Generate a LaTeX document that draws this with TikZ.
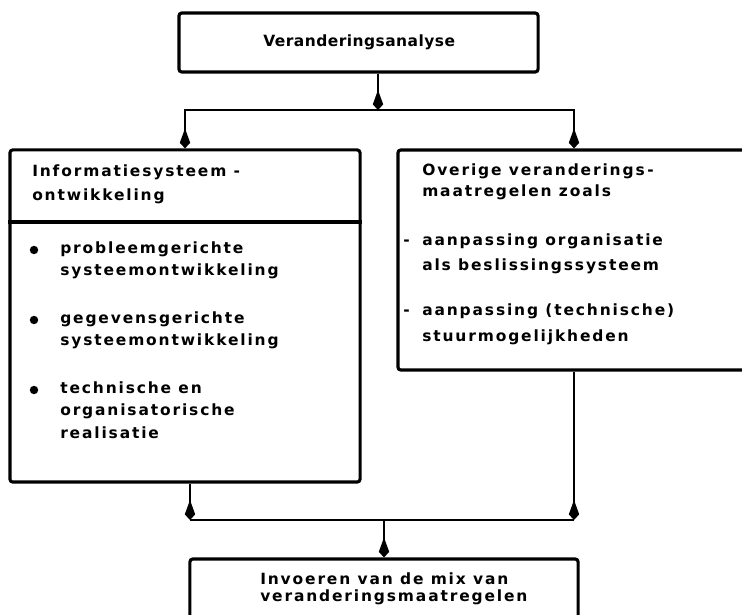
\documentclass[tikz,border=0pt]{standalone}
\usepackage{fontspec}
\newfontfamily\schemafont{DejaVu Sans}[LetterSpace=12]
\newfontfamily\kopfont{DejaVu Sans}[LetterSpace=3]
\usetikzlibrary{arrows.meta, positioning}

\tikzset{
    blok/.style={draw, line width=2.2pt, rounded corners=2pt, inner sep=0pt},
    tekst/.style={font=\schemafont\bfseries\fontsize{11}{13}\selectfont, inner sep=0pt, anchor=base west},
    kop/.style={tekst, font=\kopfont\bfseries\fontsize{11}{13}\selectfont},
    pijl/.style={-{Kite[length=5mm, width=2.6mm, inset=3.6mm]}, line width=1.3pt},
    lijn/.style={line width=1.3pt},
    punt/.style={circle, fill, inner sep=0pt, minimum size=6pt}
}

\begin{document}
\begin{tikzpicture}[x=0.025cm, y=-0.025cm]
    \useasboundingbox (0,0) rectangle (742,615);
    \clip (0,0) rectangle (742,615);

    % blokken
    \node[blok, minimum width=8.975cm, minimum height=1.475cm] (top) at (358.5,42.5) {};
    \node[blok, minimum width=8.75cm, minimum height=8.3cm] (info) at (185,316) {};
    \node[blok, minimum width=8.8cm, minimum height=5.5cm] (other) at (574,260) {};
    \node[blok, minimum width=9.7cm, minimum height=2.3cm] (mix) at (384,605) {};
    \draw[line width=2.2pt] (info.west |- 0,222) -- (info.east |- 0,222);

    % teksten
    \node[kop] (t0) at (263,47) {Veranderingsanalyse};

    \node[tekst] (i1) at (32,177) {Informatiesysteem -};
    \node[tekst] (i2) at (32,201) {ontwikkeling};
    \node[punt] (b1) at (34,250) {};
    \node[tekst] (i3) at (60,254) {probleemgerichte};
    \node[tekst] (i4) at (60,276) {systeemontwikkeling};
    \node[punt] (b2) at (34,320) {};
    \node[tekst] (i5) at (60,324) {gegevensgerichte};
    \node[tekst] (i6) at (60,346) {systeemontwikkeling};
    \node[punt] (b3) at (34,390) {};
    \node[tekst] (i7) at (60,394) {technische en};
    \node[tekst] (i8) at (60,416) {organisatorische};
    \node[tekst] (i9) at (60,439) {realisatie};

    \node[tekst] (o1) at (422,176) {Overige veranderings\,-};
    \node[tekst] (o2) at (422,197) {maatregelen zoals};
    \node[tekst] (d1) at (403,246) {-};
    \node[tekst] (o3) at (422,246) {aanpassing organisatie};
    \node[tekst] (o4) at (422,271) {als beslissingssysteem};
    \node[tekst] (d2) at (403,316) {-};
    \node[tekst] (o5) at (422,316) {aanpassing (technische)};
    \node[tekst] (o6) at (422,342) {stuurmogelijkheden};

    \node[tekst] (m1) at (260,584) {Invoeren van de mix van};
    \node[tekst] (m2) at (260,601) {veranderingsmaatregelen};

    % verbindingen
    \coordinate (sT) at (378,110);
    \coordinate (jL) at (190,520);
    \coordinate (jR) at (574,520);

    \draw[pijl] (top.south -| sT) -- (sT);
    \draw[pijl] (sT) -| (info.north);
    \draw[pijl] (sT) -| (other.north);
    \draw[pijl] (info.south -| jL) -- (jL);
    \draw[pijl] (other.south) -- (jR);
    \draw[lijn] (jL) -- (jR);
    \draw[pijl] (jL -| mix.north) -- (mix.north);
\end{tikzpicture}
\end{document}
